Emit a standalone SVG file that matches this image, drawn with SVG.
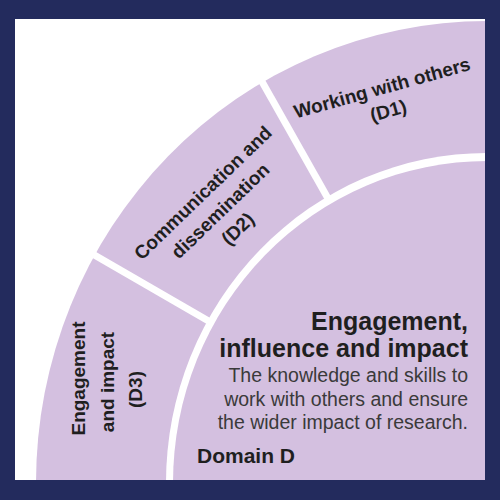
<svg xmlns="http://www.w3.org/2000/svg" width="500" height="500" viewBox="0 0 500 500">
<style>
.ring{fill:#d4c0e0}
.sep{stroke:#ffffff;stroke-width:7;fill:none}
.lbl{font-family:"Liberation Sans",Arial,sans-serif;font-weight:bold;font-size:19px;fill:#1f1f1f;text-anchor:middle}
.ttl{font-family:"Liberation Sans",Arial,sans-serif;font-weight:bold;font-size:25px;fill:#1f1f1f;text-anchor:end}
.dsc{font-family:"Liberation Sans",Arial,sans-serif;font-size:19.5px;fill:#3a3a3a;text-anchor:end}
.dom{font-family:"Liberation Sans",Arial,sans-serif;font-weight:bold;font-size:21px;fill:#1f1f1f}
</style>
<rect x="0" y="0" width="500" height="500" fill="#ffffff"/>
<g id="ring">
<ellipse class="ring" cx="487" cy="483" rx="451" ry="462"/>
<ellipse cx="487" cy="483" rx="321" ry="330" fill="#ffffff"/>
</g>
<g id="connectors">
<line class="sep" x1="256" y1="71" x2="330" y2="202"/>
<line class="sep" x1="84" y1="249" x2="212" y2="323"/>
</g>
<g id="d1">
<text class="lbl" transform="translate(383.7,94.1) rotate(-15.5)">Working with others</text>
<text class="lbl" transform="translate(390,117) rotate(-15.5)">(D1)</text>
</g>
<g id="d2">
<text class="lbl" transform="translate(207.4,197.5) rotate(-44)">Communication and</text>
<text class="lbl" transform="translate(224.8,215.5) rotate(-44)">dissemination</text>
<text class="lbl" transform="translate(242.2,233.5) rotate(-44)">(D2)</text>
</g>
<g id="d3">
<text class="lbl" transform="translate(85,378.5) rotate(-90)">Engagement</text>
<text class="lbl" transform="translate(113.5,382) rotate(-90)">and impact</text>
<text class="lbl" transform="translate(142,389.5) rotate(-90)">(D3)</text>
</g>
<g id="domain">
<ellipse class="ring" cx="487" cy="483" rx="314" ry="322"/>
<text class="ttl" x="468" y="330">Engagement,</text>
<text class="ttl" x="468" y="357">influence and impact</text>
<text class="dsc" x="468" y="382">The knowledge and skills to</text>
<text class="dsc" x="468" y="405.5">work with others and ensure</text>
<text class="dsc" x="468" y="429">the wider impact of research.</text>
<text class="dom" x="197" y="463">Domain D</text>
</g>
<path id="frame" fill="#232b5d" fill-rule="evenodd" d="M0 0H500V500H0Z M15 19V480H485V19Z"/>
</svg>
